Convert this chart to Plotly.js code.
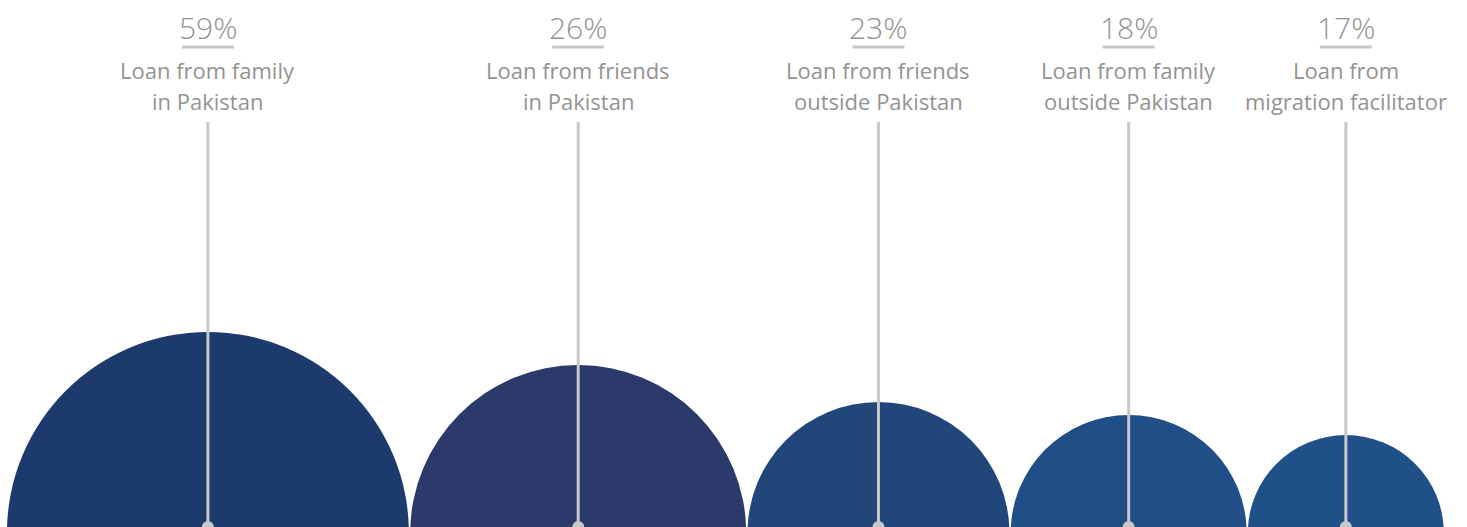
<!DOCTYPE html>
<html>
<head>
<meta charset="utf-8">
<script src="https://cdn.plot.ly/plotly-3.0.1.min.js"></script>
<style>
  html, body { margin: 0; padding: 0; background: #ffffff; }
  #chart { width: 1467px; height: 527px; }
</style>
</head>
<body>
<div id="chart"></div>
<script>
// ---- Data ----
const categories = [
  "Loan from family<br>in Pakistan",
  "Loan from friends<br>in Pakistan",
  "Loan from friends<br>outside Pakistan",
  "Loan from family<br>outside Pakistan",
  "Loan from<br>migration facilitator"
];
const values = [59, 26, 23, 18, 17];
const valueLabels = values.map(v => v + "%");

// ---- Style ----
const colors = ["#1d3a6d", "#2b396b", "#21467a", "#1f4f86", "#1f5088"];
const bubbleRadius = [201, 168, 131, 118, 98]; // px, as drawn in the infographic
const W = 1467, H = 527;
const baseDrop = 6;      // bubble centres sit slightly below the bottom edge
const startX = 7, gap = 1.5;
const gray = "#c8c8c8";
const textGray = "#939393";
const font = "Open Sans, Noto Sans, sans-serif";

// pack bubbles side by side along the bottom edge
const halfW = bubbleRadius.map(r => Math.sqrt(r * r - baseDrop * baseDrop));
const cx = [];
halfW.forEach((hw, i) => {
  cx.push(i === 0 ? startX + hw : cx[i - 1] + halfW[i - 1] + gap + hw);
});

const traces = [];
// bubbles
categories.forEach((c, i) => {
  traces.push({
    type: "scatter", mode: "markers",
    x: [cx[i]], y: [H + baseDrop],
    marker: { size: 2 * bubbleRadius[i], color: colors[i], line: { width: 0 }, opacity: 1 },
    cliponaxis: true, hoverinfo: "skip", showlegend: false
  });
});
// leader lines
const lx = [], ly = [];
cx.forEach(x => { lx.push(x, x, null); ly.push(122, H, null); });
traces.push({
  type: "scatter", mode: "lines", x: lx, y: ly,
  line: { color: gray, width: 3 }, hoverinfo: "skip", showlegend: false
});
// dots at base
traces.push({
  type: "scatter", mode: "markers", x: cx, y: cx.map(() => H),
  marker: { size: 12, color: gray }, cliponaxis: true, hoverinfo: "skip", showlegend: false
});

const annotations = [];
const shapes = [];
categories.forEach((c, i) => {
  annotations.push({
    x: cx[i], y: 27, xref: "x", yref: "y", text: valueLabels[i], showarrow: false,
    xanchor: "center", yanchor: "middle",
    font: { family: font, size: 30, color: textGray, weight: 300 }
  });
  const lines = c.split("<br>");
  lines.forEach((t, k) => {
    annotations.push({
      x: cx[i], y: 70 + 31 * k, xref: "x", yref: "y", text: t, showarrow: false,
      xanchor: "center", yanchor: "middle",
      font: { family: font, size: 22, color: textGray }
    });
  });
  shapes.push({
    type: "line", xref: "x", yref: "y", x0: cx[i] - 26, x1: cx[i] + 26, y0: 47, y1: 47,
    line: { color: gray, width: 3 }
  });
});

const layout = {
  width: W, height: H,
  margin: { l: 0, r: 0, t: 0, b: 0, pad: 0 },
  paper_bgcolor: "#ffffff", plot_bgcolor: "#ffffff",
  xaxis: { range: [0, W], visible: false, fixedrange: true },
  yaxis: { range: [H, 0], visible: false, fixedrange: true },
  annotations: annotations, shapes: shapes, showlegend: false
};

Plotly.newPlot("chart", traces, layout, { staticPlot: true, displayModeBar: false });
</script>
</body>
</html>
